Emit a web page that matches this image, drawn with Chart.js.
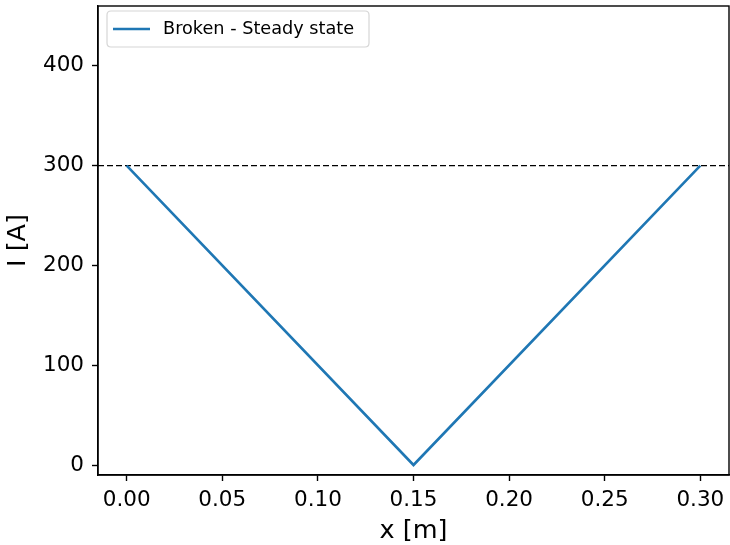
<!DOCTYPE html>
<html>
<head>
<meta charset="utf-8">
<script src="https://cdn.jsdelivr.net/npm/chart.js@4/dist/chart.umd.min.js"></script>
<style>
  html, body { margin: 0; padding: 0; background: #fff; }
  canvas { display: block; }
</style>
</head>
<body>
<canvas id="c" width="730" height="545"></canvas>
<script>
// ---- data ----
const seriesLabel = 'Broken - Steady state';
const xValues = [0.00, 0.15, 0.30];
const currentValues = [300, 0, 300];
const refLevel = 300;
const xTicks = [0.00, 0.05, 0.10, 0.15, 0.20, 0.25, 0.30];
const yTicks = [0, 100, 200, 300, 400];
const xRange = [-0.015, 0.315];
const yRange = [-10, 460];

const FONT = "'DejaVu Sans', 'Liberation Sans', sans-serif";
const BLUE = '#1f77b4';

const points = xValues.map((x, i) => ({ x: x, y: currentValues[i] }));

const framePlugin = {
  id: 'frame',
  beforeDatasetsDraw(chart) {
    const { ctx, chartArea: a, scales } = chart;
    const y = scales.y.getPixelForValue(refLevel);
    ctx.save();
    ctx.beginPath();
    ctx.rect(a.left, a.top, a.right - a.left, a.bottom - a.top);
    ctx.clip();
    ctx.strokeStyle = '#000';
    ctx.lineWidth = 1.2;
    ctx.setLineDash([6, 3]);
    ctx.beginPath();
    ctx.moveTo(a.left, y);
    ctx.lineTo(a.right, y);
    ctx.stroke();
    ctx.restore();
  },
  afterDraw(chart) {
    const { ctx, chartArea: a } = chart;
    ctx.save();
    ctx.strokeStyle = '#000';
    ctx.lineWidth = 1.4;
    ctx.strokeRect(a.left, a.top, a.right - a.left, a.bottom - a.top);
    // legend
    const lx = a.left + 9, ly = a.top + 5, lw = 262, lh = 36, r = 4;
    ctx.beginPath();
    ctx.moveTo(lx + r, ly);
    ctx.lineTo(lx + lw - r, ly);
    ctx.quadraticCurveTo(lx + lw, ly, lx + lw, ly + r);
    ctx.lineTo(lx + lw, ly + lh - r);
    ctx.quadraticCurveTo(lx + lw, ly + lh, lx + lw - r, ly + lh);
    ctx.lineTo(lx + r, ly + lh);
    ctx.quadraticCurveTo(lx, ly + lh, lx, ly + lh - r);
    ctx.lineTo(lx, ly + r);
    ctx.quadraticCurveTo(lx, ly, lx + r, ly);
    ctx.closePath();
    ctx.fillStyle = 'rgba(255,255,255,0.8)';
    ctx.fill();
    ctx.strokeStyle = '#d6d6d6';
    ctx.lineWidth = 1.2;
    ctx.stroke();
    const cy = ly + lh / 2;
    ctx.strokeStyle = BLUE;
    ctx.lineWidth = 2.6;
    ctx.beginPath();
    ctx.moveTo(lx + 6, cy);
    ctx.lineTo(lx + 43, cy);
    ctx.stroke();
    ctx.fillStyle = '#000';
    ctx.font = '17.7px ' + FONT;
    ctx.textBaseline = 'middle';
    ctx.textAlign = 'left';
    ctx.fillText(chart.data.datasets[0].label, lx + 56, cy + 0.5);
    ctx.restore();
  }
};

new Chart(document.getElementById('c'), {
  type: 'scatter',
  data: {
    datasets: [{
      label: seriesLabel,
      data: points,
      showLine: true,
      borderColor: BLUE,
      backgroundColor: BLUE,
      borderWidth: 2.6,
      pointRadius: 0,
      pointHoverRadius: 0,
      fill: false,
      tension: 0
    }]
  },
  options: {
    responsive: false,
    animation: false,
    devicePixelRatio: 1,
    layout: { padding: { left: 0, right: 1, top: 6, bottom: 0 } },
    plugins: {
      legend: { display: false },
      tooltip: { enabled: false }
    },
    scales: {
      x: {
        type: 'linear',
        min: xRange[0],
        max: xRange[1],
        afterBuildTicks(axis) { axis.ticks = xTicks.map(v => ({ value: v })); },
        afterFit(axis) { axis.height = 70; axis.paddingLeft = 0; axis.paddingRight = 0; },
        ticks: {
          color: '#000',
          font: { family: FONT, size: 21.5 },
          padding: 7,
          maxRotation: 0,
          autoSkip: false,
          callback: v => Number(v).toFixed(2)
        },
        grid: { drawOnChartArea: false, drawTicks: true, tickLength: 6, tickColor: '#000', tickWidth: 1.4 },
        border: { display: true, color: '#000', width: 1.4 },
        title: {
          display: true,
          text: 'x [m]',
          color: '#000',
          font: { family: FONT, size: 25.5 },
          padding: { top: 0, bottom: -2 }
        }
      },
      y: {
        type: 'linear',
        min: yRange[0],
        max: yRange[1],
        afterBuildTicks(axis) { axis.ticks = yTicks.map(v => ({ value: v })); },
        afterFit(axis) { axis.width = 98; axis.paddingTop = 0; axis.paddingBottom = 0; },
        ticks: {
          color: '#000',
          font: { family: FONT, size: 21.5 },
          padding: 8,
          autoSkip: false,
          callback: v => String(v)
        },
        grid: { drawOnChartArea: false, drawTicks: true, tickLength: 6, tickColor: '#000', tickWidth: 1.4 },
        border: { display: true, color: '#000', width: 1.4 },
        title: {
          display: true,
          text: 'I [A]',
          color: '#000',
          font: { family: FONT, size: 25.5 },
          padding: { top: 3, bottom: 0 }
        }
      }
    }
  },
  plugins: [framePlugin]
});
</script>
</body>
</html>
